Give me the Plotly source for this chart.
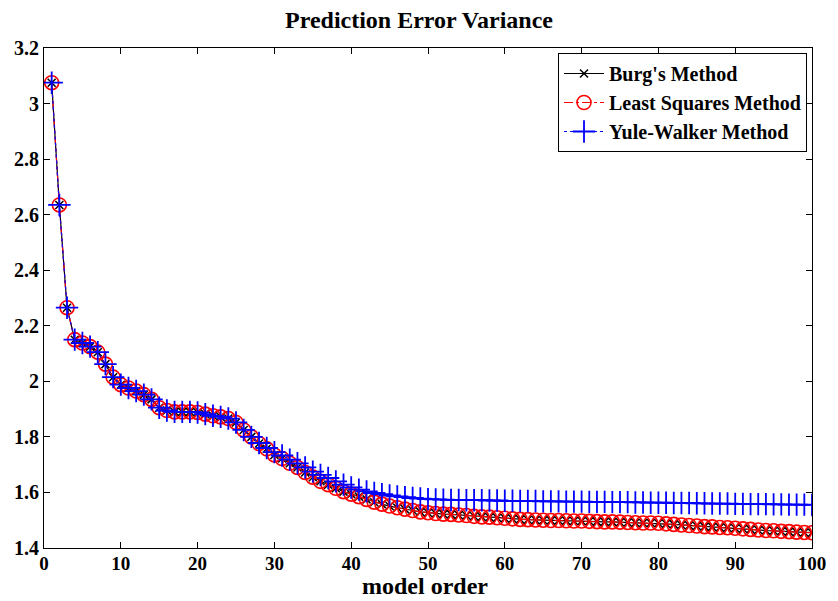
import plotly.graph_objects as go

orders = list(range(1, 101))

least_squares = [
    3.075, 2.635, 2.265, 2.150, 2.138, 2.125, 2.105, 2.062, 2.015, 1.988,
    1.976, 1.965, 1.952, 1.935, 1.905, 1.895, 1.890, 1.890, 1.890, 1.888,
    1.882, 1.876, 1.872, 1.866, 1.852, 1.825, 1.800, 1.776, 1.757, 1.735,
    1.722, 1.705, 1.690, 1.672, 1.655, 1.640, 1.628, 1.615, 1.603, 1.594,
    1.585, 1.575, 1.565, 1.558, 1.551, 1.545, 1.540, 1.535, 1.530, 1.527,
    1.524, 1.522, 1.521, 1.519, 1.517, 1.514, 1.512, 1.511, 1.509, 1.507,
    1.505, 1.503, 1.502, 1.501, 1.500, 1.499, 1.499, 1.498, 1.497, 1.497,
    1.496, 1.495, 1.494, 1.494, 1.493, 1.492, 1.491, 1.490, 1.490, 1.489,
    1.487, 1.485, 1.483, 1.481, 1.479, 1.477, 1.476, 1.474, 1.473, 1.471,
    1.469, 1.467, 1.465, 1.463, 1.462, 1.460, 1.459, 1.457, 1.456, 1.455,
]

burg = [
    3.075, 2.635, 2.265, 2.150, 2.138, 2.125, 2.105, 2.062, 2.015, 1.988,
    1.976, 1.965, 1.952, 1.935, 1.905, 1.895, 1.890, 1.890, 1.890, 1.888,
    1.882, 1.876, 1.872, 1.866, 1.852, 1.825, 1.800, 1.776, 1.757, 1.735,
    1.722, 1.705, 1.690, 1.672, 1.655, 1.640, 1.628, 1.615, 1.603, 1.594,
    1.585, 1.575, 1.565, 1.558, 1.551, 1.545, 1.540, 1.535, 1.530, 1.527,
    1.524, 1.522, 1.521, 1.519, 1.517, 1.514, 1.512, 1.511, 1.509, 1.507,
    1.505, 1.503, 1.502, 1.501, 1.500, 1.499, 1.499, 1.498, 1.497, 1.497,
    1.496, 1.495, 1.494, 1.494, 1.493, 1.492, 1.491, 1.490, 1.490, 1.489,
    1.487, 1.485, 1.483, 1.481, 1.479, 1.477, 1.476, 1.474, 1.473, 1.471,
    1.469, 1.467, 1.465, 1.463, 1.462, 1.460, 1.459, 1.457, 1.456, 1.455,
]

yule_walker = [
    3.075, 2.635, 2.265, 2.150, 2.138, 2.125, 2.105, 2.062, 2.015, 1.988,
    1.976, 1.965, 1.952, 1.935, 1.905, 1.895, 1.890, 1.890, 1.890, 1.888,
    1.882, 1.876, 1.872, 1.866, 1.852, 1.825, 1.800, 1.778, 1.760, 1.745,
    1.733, 1.718, 1.705, 1.690, 1.675, 1.663, 1.652, 1.640, 1.628, 1.618,
    1.610, 1.604, 1.598, 1.594, 1.589, 1.586, 1.583, 1.580, 1.578, 1.576,
    1.575, 1.574, 1.573, 1.573, 1.572, 1.572, 1.572, 1.571, 1.571, 1.570,
    1.570, 1.569, 1.569, 1.569, 1.568, 1.568, 1.568, 1.567, 1.567, 1.567,
    1.566, 1.566, 1.566, 1.565, 1.565, 1.565, 1.564, 1.564, 1.563, 1.563,
    1.563, 1.562, 1.562, 1.562, 1.561, 1.561, 1.560, 1.560, 1.560, 1.559,
    1.559, 1.558, 1.558, 1.558, 1.557, 1.557, 1.556, 1.556, 1.556, 1.555,
]

x_ticks = [0, 10, 20, 30, 40, 50, 60, 70, 80, 90, 100]
y_ticks = [1.4, 1.6, 1.8, 2.0, 2.2, 2.4, 2.6, 2.8, 3.0, 3.2]
y_tick_labels = ["1.4", "1.6", "1.8", "2", "2.2", "2.4", "2.6", "2.8", "3", "3.2"]

FONT = "Liberation Serif"

fig = go.Figure()
fig.add_trace(go.Scatter(
    x=orders, y=burg, name="Burg's Method", mode="lines+markers",
    line=dict(color="black", width=1.2, dash="solid"),
    marker=dict(symbol="x-thin-open", size=8, color="black",
                line=dict(color="black", width=1.5)),
))
fig.add_trace(go.Scatter(
    x=orders, y=least_squares, name="Least Squares Method", mode="lines+markers",
    line=dict(color="red", width=1.2, dash="dashdot"),
    marker=dict(symbol="circle-open", size=14, color="red",
                line=dict(color="red", width=1.6)),
))
fig.add_trace(go.Scatter(
    x=orders, y=yule_walker, name="Yule-Walker Method", mode="lines+markers",
    line=dict(color="blue", width=1.2, dash="dot"),
    marker=dict(symbol="cross-thin-open", size=16, color="blue",
                line=dict(color="blue", width=1.8)),
))

fig.update_layout(
    width=838, height=601,
    margin=dict(l=44, r=20, t=48, b=53),
    paper_bgcolor="white", plot_bgcolor="white",
    font=dict(family=FONT, color="black", size=20, weight="bold"),
    title=dict(text="Prediction Error Variance", x=0.5, xref="container",
               y=0.968, yref="container", yanchor="middle",
               font=dict(family=FONT, size=24, weight="bold", color="black")),
    showlegend=True,
    legend=dict(x=0.9935, y=0.99, xanchor="right", yanchor="top",
                bgcolor="white", bordercolor="black", borderwidth=1,
                font=dict(family=FONT, size=20, weight="bold", color="black"),
                tracegroupgap=0, itemwidth=40),
    xaxis=dict(range=[0, 100], tickvals=x_ticks, ticks="inside", ticklen=6,
               tickcolor="black", showline=True, linecolor="black", linewidth=1.2,
               mirror="ticks", showgrid=False, zeroline=False,
               ticklabelstandoff=-2,
               tickfont=dict(family=FONT, size=19, weight="bold", color="black")),
    yaxis=dict(range=[1.4, 3.2], tickvals=y_ticks, ticktext=y_tick_labels,
               ticks="inside", ticklen=6, tickcolor="black", showline=True,
               linecolor="black", linewidth=1.2, mirror="ticks", showgrid=False,
               zeroline=False,
               tickfont=dict(family=FONT, size=20, weight="bold", color="black")),
    annotations=[dict(text="model order", x=0.4957, xref="paper", y=0, yref="paper",
                      yanchor="bottom", yshift=-53, showarrow=False,
                      font=dict(family=FONT, size=24, weight="bold", color="black"))],
)

fig.write_html("out.html")
